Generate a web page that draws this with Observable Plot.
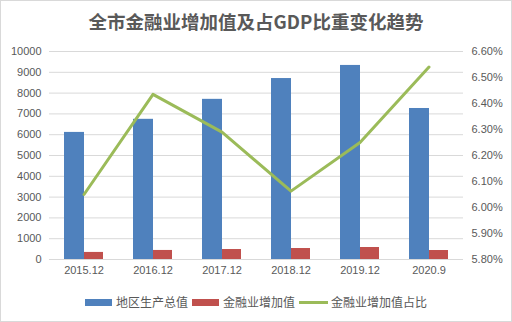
<!DOCTYPE html>
<html><head><meta charset="utf-8">
<script src="https://cdn.jsdelivr.net/npm/d3@7"></script>
<script src="https://cdn.jsdelivr.net/npm/@observablehq/plot@0.6"></script>
<style>
body{margin:0;background:#fff;}
#wrap{position:relative;width:512px;height:322px;overflow:hidden;font-family:"Liberation Sans","Noto Sans CJK SC",sans-serif;}
#title{position:absolute;left:0;top:9px;width:512px;text-align:center;font-family:"Noto Sans CJK SC",sans-serif;font-weight:bold;font-size:18.5px;color:#595959;line-height:24px;}
#legend{position:absolute;left:0;top:293px;width:512px;display:flex;justify-content:center;align-items:center;font-family:"Noto Sans CJK SC",sans-serif;font-size:12px;color:#595959;line-height:18px;}
#legend .it{display:flex;align-items:center;margin:0 2px;}
#legend .sw{display:inline-block;width:27px;height:7px;margin-right:4px;}
#legend .ln{display:inline-block;width:29px;height:3px;margin-right:3px;}
#border{position:absolute;left:0;top:0;width:510px;height:320px;border:1px solid #d9d9d9;pointer-events:none;}
</style></head>
<body>
<div id="wrap"><div id="chart"></div>
<div id="title">全市金融业增加值及占GDP比重变化趋势</div>
<div id="legend"></div>
<div id="border"></div>
</div>
<script>
const categories = ["2015.12","2016.12","2017.12","2018.12","2019.12","2020.9"];
const gdp = [6110, 6740, 7700, 8700, 9330, 7260];
const finance = [340, 435, 480, 528, 577, 432];
const share = [6.05, 6.435, 6.29, 6.063, 6.25, 6.54];
const leftTicks = [0,1000,2000,3000,4000,5000,6000,7000,8000,9000,10000];
const rightTicks = [5.8,5.9,6.0,6.1,6.2,6.3,6.4,6.5,6.6];
const rightMin = 5.8, rightMax = 6.6;
const seriesNames = ["地区生产总值","金融业增加值","金融业增加值占比"];
const colors = ["#4F81BD","#C0504D","#9BBB59"];

const toLeft = p => (p - rightMin) / (rightMax - rightMin) * 10000;
const barsG = categories.map((c,i)=>({cat:c, v:gdp[i]}));
const barsF = categories.map((c,i)=>({cat:c, v:finance[i]}));
const lineD = categories.map((c,i)=>({cat:c, v:toLeft(share[i])}));

const chart = Plot.plot({
  width:512, height:322,
  marginLeft:49, marginRight:49, marginTop:51, marginBottom:63,
  style:{fontSize:"11px", color:"#595959", fontFamily:"'Liberation Sans','Noto Sans CJK SC',sans-serif", background:"transparent"},
  x:{domain:categories, padding:0, label:null},
  y:{domain:[0,10000], label:null},
  marks:[
    Plot.ruleY(leftTicks, {stroke:"#d9d9d9", strokeWidth:1}),
    Plot.barY(barsG, {x:"cat", y:"v", fill:colors[0], insetLeft:15, insetRight:34}),
    Plot.barY(barsF, {x:"cat", y:"v", fill:colors[1], insetLeft:35, insetRight:15}),
    Plot.line(lineD, {x:"cat", y:"v", stroke:colors[2], strokeWidth:3, strokeLinejoin:"round"}),
    Plot.axisY({ticks:leftTicks, tickSize:0, tickPadding:8, label:null, tickFormat:d=>String(d)}),
    Plot.axisY({anchor:"right", ticks:rightTicks.map(toLeft), tickSize:0, tickPadding:8, label:null,
      tickFormat:t=>(rightMin + t/10000*(rightMax-rightMin)).toFixed(2)+"%"}),
    Plot.axisX({tickSize:0, tickPadding:7, label:null})
  ]
});
document.getElementById("chart").appendChild(chart);

const lg = document.getElementById("legend");
seriesNames.forEach((n,i)=>{
  const it = document.createElement("span"); it.className="it";
  const sw = document.createElement("span"); sw.className = i<2 ? "sw" : "ln"; sw.style.background = colors[i];
  it.appendChild(sw);
  const t = document.createElement("span"); t.textContent = n; it.appendChild(t);
  lg.appendChild(it);
});
</script>
</body></html>
